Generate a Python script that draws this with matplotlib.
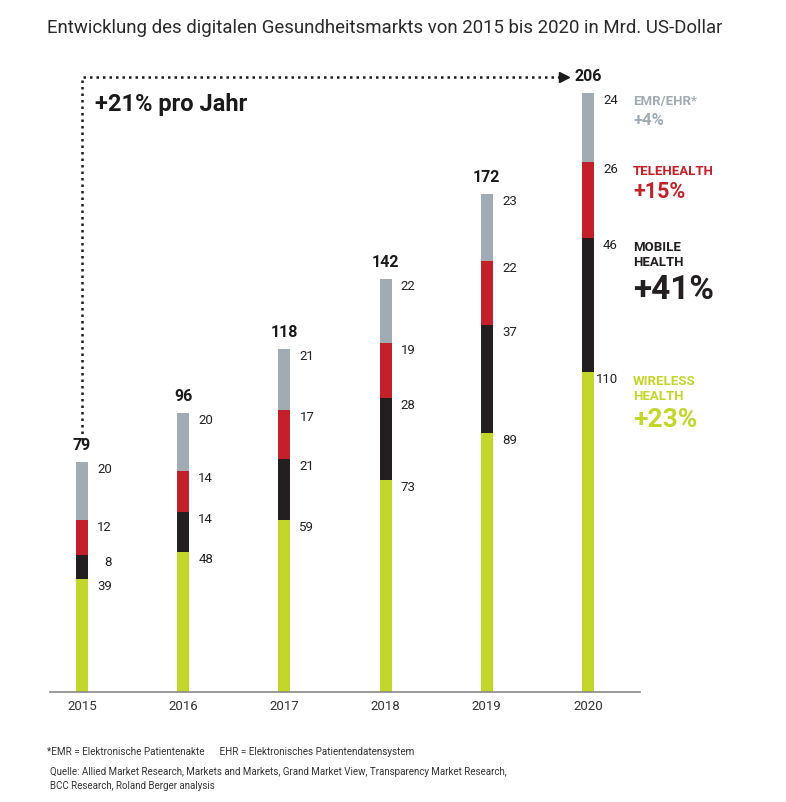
import matplotlib.pyplot as plt
import numpy as np

plt.rcParams['font.family'] = ['Roboto', 'DejaVu Sans']

years = ['2015', '2016', '2017', '2018', '2019', '2020']
wireless = [39, 48, 59, 73, 89, 110]
mobile = [8, 14, 21, 28, 37, 46]
tele = [12, 14, 17, 19, 22, 26]
emr = [20, 20, 21, 22, 23, 24]
totals = ['79', '96', '118', '142', '172', '206']

c_green = '#c3d62b'
c_black = '#231f20'
c_red = '#c4202a'
c_grey = '#a1abb4'

fig = plt.figure(figsize=(7.86, 8.02), dpi=100)
W, H = 786, 802
# axes placed in pixel terms: baseline at y=692, left 50, right 640
ax = fig.add_axes([50 / W, (H - 692) / H, 590 / W, 632 / H])
ax.set_xlim(-0.316, 5.514)
ax.set_ylim(0, 632 / 2.91)

x = np.arange(len(years))
bw = 0.12
series = [(wireless, c_green), (mobile, c_black), (tele, c_red), (emr, c_grey)]
bottom = np.zeros(len(years))
for vals, col in series:
    ax.bar(x, vals, bw, bottom=bottom, color=col, linewidth=0)
    for i, v in enumerate(vals):
        top = bottom[i] + v
        ax.annotate(str(v), (x[i], top), xytext=(30, -1), textcoords='offset pixels',
                    ha='right', va='top', fontsize=9.5, color='#222222')
    bottom = bottom + np.array(vals)

for i, t in enumerate(totals):
    ax.annotate(t, (x[i], bottom[i]), xytext=(0, 9), textcoords='offset pixels',
                ha='center', va='bottom', fontsize=11.5, fontweight='bold', color='#1a1a1a')

# dotted growth arrow
ax.plot([0, 0, 4.73], [86.5, 211.5, 211.5], color='#1a1a1a', linestyle=(0, (1, 1.6)),
        linewidth=1.8, clip_on=False)
ax.plot([4.76], [211.5], marker='>', color='#1a1a1a', markersize=7, clip_on=False)
ax.text(0.13, 202, '+21% pro Jahr', fontsize=17, fontweight='bold', color='#1a1a1a',
        ha='left', va='center')

# legend labels next to the 2020 bar
lx = 5.445
tops = np.cumsum([wireless[-1], mobile[-1], tele[-1], emr[-1]])
ax.text(lx, tops[3] - 1, 'EMR/EHR*', fontsize=9.5, fontweight='bold', color=c_grey, va='top')
ax.text(lx, tops[3] - 7, '+4%', fontsize=12, fontweight='bold', color=c_grey, va='top')
ax.text(lx, tops[2] - 1, 'TELEHEALTH', fontsize=9.5, fontweight='bold', color=c_red, va='top')
ax.text(lx, tops[2] - 6.5, '+15%', fontsize=15.5, fontweight='bold', color=c_red, va='top')
ax.text(lx, tops[1] - 1, 'MOBILE\nHEALTH', fontsize=9.5, fontweight='bold', color=c_black,
        va='top', linespacing=1.2)
ax.text(lx, tops[1] - 12.5, '+41%', fontsize=24, fontweight='bold', color=c_black, va='top')
ax.text(lx, tops[0] - 1, 'WIRELESS\nHEALTH', fontsize=9.5, fontweight='bold', color=c_green,
        va='top', linespacing=1.2)
ax.text(lx, tops[0] - 12.3, '+23%', fontsize=19, fontweight='bold', color=c_green, va='top')

for s in ['top', 'right', 'left']:
    ax.spines[s].set_visible(False)
ax.spines['bottom'].set_color('#8a8a8a')
ax.spines['bottom'].set_linewidth(1.2)
ax.set_yticks([])
ax.set_xticks(x)
ax.set_xticklabels(years, fontsize=9.5, color='#333333')
ax.tick_params(axis='x', length=0, pad=6)

fig.text(47 / W, 1 - 28 / H, 'Entwicklung des digitalen Gesundheitsmarkts von 2015 bis 2020 in Mrd. US-Dollar',
         fontsize=13.4, color='#2a2a2a', va='center')
fig.text(47 / W, 1 - 752 / H,
         '*EMR = Elektronische Patientenakte      EHR = Elektronisches Patientendatensystem',
         fontsize=7.1, color='#333333', va='center')
fig.text(50 / W, 1 - 779 / H,
         'Quelle: Allied Market Research, Markets and Markets, Grand Market View, Transparency Market Research,\n'
         'BCC Research, Roland Berger analysis',
         fontsize=7, color='#333333', va='center', linespacing=1.5)

fig.savefig('out.png', dpi=100)
